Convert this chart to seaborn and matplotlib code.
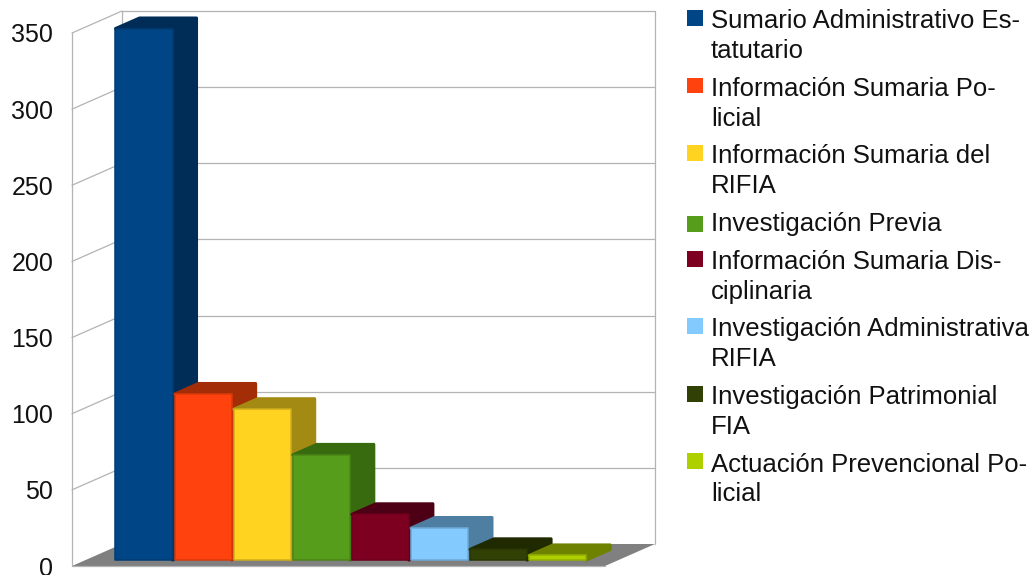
import matplotlib
matplotlib.use("Agg")
import matplotlib.pyplot as plt
import seaborn as sns
import pandas as pd
from matplotlib.patches import Polygon, Rectangle, Patch
from matplotlib.transforms import Affine2D, IdentityTransform
from matplotlib.legend_handler import HandlerPatch

categories = ["Sumario Administrativo Es-\ntatutario", "Información Sumaria Po-\nlicial",
              "Información Sumaria del\nRIFIA", "Investigación Previa",
              "Información Sumaria Dis-\nciplinaria", "Investigación Administrativa\nRIFIA",
              "Investigación Patrimonial\nFIA", "Actuación Prevencional Po-\nlicial"]
values = [349, 109, 99, 69, 30, 21, 7, 3]
front_colors = ["#004586", "#ff420e", "#ffd320", "#579d1c", "#7e0021", "#83caff", "#314004", "#aecf00"]
side_colors = ["#002c58", "#a32d06", "#a38a12", "#386a10", "#4d0015", "#4f7ea3", "#1f2a00", "#6f8200"]
edge_colors = ["#003d75", "#d93a0c", "#cfad1c", "#4a8518", "#6c001c", "#6fa8d6", "#2a3603", "#94b000"]
y_ticks = [0, 50, 100, 150, 200, 250, 300, 350]

sns.set_theme(style="white")
plt.rcParams["font.family"] = ["Liberation Sans", "DejaVu Sans"]

W, H = 1034, 575
fig = plt.figure(figsize=(W / 100, H / 100), dpi=100, facecolor="white")
ax = fig.add_axes([72 / W, 1 - 566 / H, 533 / W, 533 / H])
df = pd.DataFrame({"cat": categories, "val": values})
sns.barplot(data=df, x="cat", y="val", hue="cat", palette=front_colors, legend=False,
            width=0.965, dodge=False, saturation=1, ax=ax)
ax.set_xlim(-0.99, 8.03)
ax.set_ylim(0, 350)
ax.set_xlabel("")
ax.set_ylabel("")
ax.set_xticks([])
ax.set_yticks(y_ticks)
ax.tick_params(axis="y", length=0, pad=13.5, labelsize=18, labelcolor="#111111")
for lab in ax.get_yticklabels():
    lab.set_clip_on(False)
for s in ax.spines.values():
    s.set_visible(False)
ax.patch.set_alpha(0)

bars = sorted([b for b in ax.patches if isinstance(b, Rectangle) and b.get_height() > 0],
              key=lambda r: r.get_x())

DX, DY = 50, 22
GRID = "#b3b3b3"
xl, xr = ax.get_xlim()

def P(x, v, d):
    px, py = ax.transData.transform((x, v))
    return (px + DX * d, py + DY * d)

def line(a, b, **kw):
    ax.plot([a[0], b[0]], [a[1], b[1]], transform=IdentityTransform(), color=GRID,
            lw=0.9, zorder=1, clip_on=False, **kw)

# floor
ax.add_patch(Polygon([P(xl, 0, 0), P(xr, 0, 0), P(xr, 0, 1), P(xl, 0, 1)], closed=True,
                     transform=IdentityTransform(), facecolor="#808080", edgecolor="none",
                     zorder=0.5, clip_on=False))
# walls and gridlines
for v in y_ticks:
    if v > 0:
        line(P(xl, v, 0), P(xl, v, 1))
        line(P(xl, v, 1), P(xr, v, 1))
line(P(xl, 0, 0), P(xl, 350, 0))
line(P(xl, 0, 1), P(xl, 350, 1))
line(P(xr, 0, 1), P(xr, 350, 1))
line(P(xl, 0, 0), P(xr, 0, 0))

# bars: seaborn rectangles moved into depth, with their side and top faces
D0, D1 = 0.27, 0.75
shift = Affine2D().translate(DX * D0, DY * D0)
for i, b in enumerate(bars):
    x0, x1, h = b.get_x(), b.get_x() + b.get_width(), b.get_height()
    b.set_transform(ax.transData + shift)
    b.set_edgecolor(edge_colors[i])
    b.set_linewidth(1.1)
    b.set_joinstyle("round")
    b.set_clip_on(False)
    b.set_zorder(3 + i + 0.5)
    face = [P(x0, h, D0), P(x1, h, D0), P(x1, 0, D0), P(x1, 0, D1), P(x1, h, D1), P(x0, h, D1)]
    ax.add_patch(Polygon(face, closed=True, transform=IdentityTransform(), facecolor=side_colors[i],
                         edgecolor=side_colors[i], lw=2.2, joinstyle="round", zorder=3 + i, clip_on=False))

class SquareHandler(HandlerPatch):
    def __init__(self, lines):
        super().__init__()
        self.lines = lines
    def create_artists(self, legend, orig, xdescent, ydescent, width, height, fontsize, trans):
        size = 11.5
        lift = (self.lines - 1) * 14.8 - 0.7
        r = Rectangle((0, lift), size, size, facecolor=orig.get_facecolor(), edgecolor="none", transform=trans)
        return [r]

handles = [Patch(facecolor=c) for c in front_colors]
hmap = {h: SquareHandler(c.count("\n") + 1) for h, c in zip(handles, categories)}
leg = fig.legend(handles, categories, handler_map=hmap, loc="upper left",
                 bbox_to_anchor=(687 / W, 1 - 9 / H), bbox_transform=fig.transFigure,
                 frameon=False, fontsize=18.5, labelspacing=0.535, handlelength=0.62,
                 handletextpad=0.31, borderpad=0, borderaxespad=0)
for t in leg.get_texts():
    t.set_color("#111111")
    t.set_linespacing(1.31)

fig.savefig("out.png", dpi=100, facecolor="white")
